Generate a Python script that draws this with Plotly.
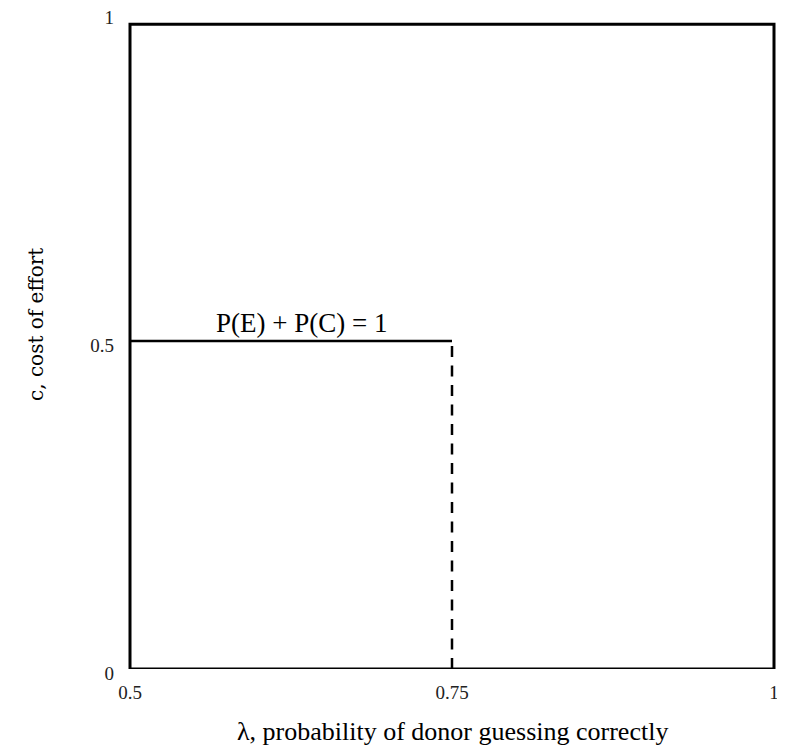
import plotly.graph_objects as go

# data
solid_x = [0.5, 0.75]
solid_y = [0.5, 0.5]
dash_x = [0.75, 0.75]
dash_y = [0.0, 0.5]
x_range = [0.5, 1]
y_range = [0, 1]
frame_top = 0.983
x_ticks = [0.5, 0.75, 1]
x_ticktext = ["0.5", "0.75", "1"]
y_ticks = [0, 0.5, 1]
y_ticktext = ["0", "0.5", "1"]
label_text = "P(E) + P(C) = 1"
label_x = 0.633
label_y = 0.5
x_title = "λ, probability of donor guessing correctly"
y_title = "c, cost of effort"

FONT = "Liberation Serif"

fig = go.Figure()
fig.add_trace(go.Scatter(x=solid_x, y=solid_y, mode="lines",
                         line=dict(color="black", width=2.5), showlegend=False,
                         hoverinfo="skip"))
fig.add_trace(go.Scatter(x=dash_x, y=dash_y, mode="lines",
                         line=dict(color="black", width=2.5, dash="11px,8.5px"),
                         showlegend=False, hoverinfo="skip"))

# frame
fig.add_shape(type="rect", xref="x domain", yref="y",
              x0=0, x1=1, y0=y_range[0], y1=frame_top,
              line=dict(color="black", width=3), layer="above")

fig.add_annotation(x=label_x, y=label_y, text=label_text, showarrow=False,
                   yanchor="middle", yshift=18,
                   font=dict(family=FONT, size=27, color="black"))
fig.add_annotation(xref="paper", yref="paper", x=0.5, y=0, text=x_title,
                   showarrow=False, xanchor="center", yanchor="middle",
                   yshift=-62, font=dict(family=FONT, size=26, color="black"))
fig.add_annotation(xref="paper", yref="paper", x=0, y=0.5, text=y_title,
                   showarrow=False, xanchor="center", yanchor="middle",
                   textangle=-90, xshift=-94, yshift=16,
                   font=dict(family="DejaVu Serif", size=20, color="black"))

fig.update_layout(
    width=777, height=742,
    margin=dict(l=122, r=11, t=5, b=81, autoexpand=False),
    plot_bgcolor="white", paper_bgcolor="white",
    font=dict(family=FONT, color="black"),
    xaxis=dict(range=x_range, tickvals=x_ticks, ticktext=x_ticktext,
               showgrid=False, zeroline=False, showline=False,
               automargin=False,
               ticks="", ticklabelstandoff=10, ticklabeloverflow="allow",
               tickfont=dict(family=FONT, size=19, color="#222")),
    yaxis=dict(range=y_range, tickvals=y_ticks, ticktext=y_ticktext,
               showgrid=False, zeroline=False, showline=False,
               automargin=False,
               ticks="", ticklabelstandoff=15, ticklabelshift=4,
               ticklabeloverflow="allow",
               tickfont=dict(family=FONT, size=19, color="#222")),
)

fig.write_html("out.html")
